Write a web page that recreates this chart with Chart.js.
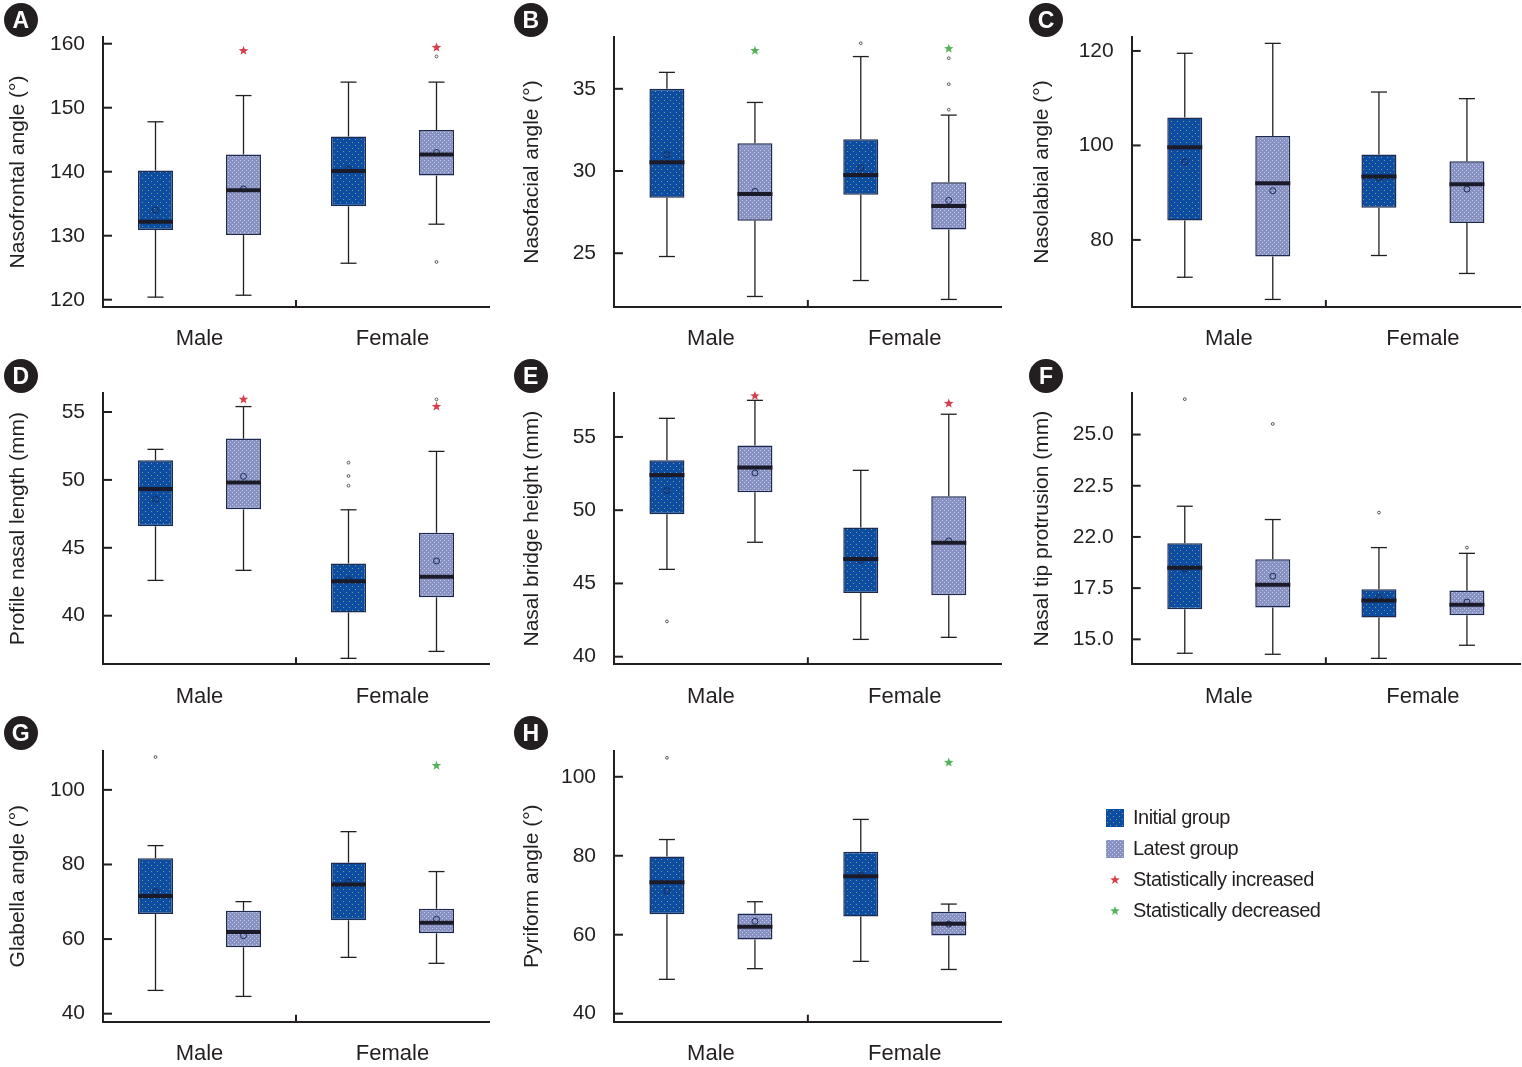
<!DOCTYPE html>
<html>
<head>
<meta charset="utf-8">
<script src="https://cdn.jsdelivr.net/npm/chart.js@4.4.1/dist/chart.umd.min.js"></script>
<style>
  html, body { margin: 0; padding: 0; background: #fff; }
  body { width: 1522px; height: 1067px; position: relative; overflow: hidden;
         font-family: "Liberation Sans", Arial, sans-serif; color: #231f20; }
  canvas.panel { position: absolute; }
  .badge { position: absolute; width: 34px; height: 34px; margin: -17px 0 0 -17px; border-radius: 50%;
           background: #231f20; color: #fff; font: bold 23px "Liberation Sans", Arial, sans-serif;
           text-align: center; line-height: 35px; }
  .legend { position: absolute; left: 1106px; top: 802px; font-size: 20px; letter-spacing: -0.5px; }
  .legend div { height: 31px; display: flex; align-items: center; }
  .legend canvas { margin-right: 9px; }
</style>
</head>
<body>
<div class="legend" id="legend"></div>
<script>
// categories and series
const groups = ['Male', 'Female'];
const seriesNames = ['Initial group', 'Latest group'];
const markNames = ['Statistically increased', 'Statistically decreased'];

// each row: [min, q1, median, q3, max, mean] for Male, Female
// A - nasofrontal angle
const nasofrontalInitial = [[120.4, 130.9, 132.2, 140.2, 147.8, 134.0], [125.7, 134.6, 140.1, 145.5, 154.0, 140.4]];
const nasofrontalLatest = [[120.7, 130.1, 137.1, 142.7, 151.9, 137.3], [131.8, 139.4, 142.7, 146.5, 154.0, 143.0]];
const nasofrontalOutInitial = [[], []];
const nasofrontalOutLatest = [[], [158.0, 125.9]];
const nasofrontalStars = [158.9, 159.4];
const nasofrontalStarKinds = ['inc', 'inc'];
const nasofrontalTicks = [120, 130, 140, 150, 160];

// B - nasofacial angle
const nasofacialInitial = [[24.8, 28.37, 30.54, 35.0, 36.0, 31.0], [23.34, 28.56, 29.75, 31.93, 36.96, 30.19]];
const nasofacialLatest = [[22.37, 26.98, 28.6, 31.69, 34.17, 28.76], [22.19, 26.45, 27.87, 29.32, 33.4, 28.21]];
const nasofacialOutInitial = [[], [37.77]];
const nasofacialOutLatest = [[], [36.86, 35.28, 33.73]];
const nasofacialStars = [37.32, 37.44];
const nasofacialStarKinds = ['dec', 'dec'];
const nasofacialTicks = [25, 30, 35];

// C - nasolabial angle
const nasolabialInitial = [[72.1, 84.1, 99.6, 105.9, 119.5, 96.5], [76.7, 86.8, 93.4, 98.1, 111.3, 93.1]];
const nasolabialLatest = [[67.4, 76.5, 92.0, 102.0, 121.6, 90.4], [72.9, 83.6, 91.8, 96.65, 109.9, 90.75]];
const nasolabialOutInitial = [[], []];
const nasolabialOutLatest = [[], []];
const nasolabialStars = [null, null];
const nasolabialStarKinds = [null, null];
const nasolabialTicks = [80, 100, 120];

// D - profile nasal length
const profileInitial = [[42.6, 46.58, 49.33, 51.44, 52.25, 48.57], [36.86, 40.24, 42.53, 43.85, 47.8, 42.63]];
const profileLatest = [[43.34, 47.83, 49.8, 53.04, 55.4, 50.26], [37.37, 41.35, 42.87, 46.11, 52.1, 44.03]];
const profileOutInitial = [[], [51.27, 50.29, 49.57]];
const profileOutLatest = [[], [55.93]];
const profileStars = [55.93, 55.4];
const profileStarKinds = ['inc', 'inc'];
const profileTicks = [40, 45, 50, 55];

// E - nasal bridge height
const bridgeInitial = [[45.96, 49.72, 52.4, 53.41, 56.27, 51.34], [41.18, 44.34, 46.67, 48.81, 52.72, 46.58]];
const bridgeLatest = [[47.81, 51.22, 52.91, 54.41, 57.5, 52.54], [41.32, 44.19, 47.78, 50.95, 56.55, 47.9]];
const bridgeOutInitial = [[42.41], []];
const bridgeOutLatest = [[], []];
const bridgeStars = [57.8, 57.28];
const bridgeStarKinds = ['inc', 'inc'];
const bridgeTicks = [40, 45, 50, 55];

// F - nasal tip protrusion (tick label "22.0" printed as in the source figure)
const tipInitial = [[14.32, 16.47, 18.5, 19.69, 21.5, 18.44], [14.07, 16.07, 16.89, 17.44, 19.48, 17.04]];
const tipLatest = [[14.27, 16.56, 17.67, 18.91, 20.85, 18.08], [14.71, 16.17, 16.69, 17.39, 19.2, 16.82]];
const tipOutInitial = [[26.73], [21.19]];
const tipOutLatest = [[25.52], [19.48]];
const tipStars = [null, null];
const tipStarKinds = [null, null];
const tipTicks = [15, 17.5, 20, 22.5, 25];
const tipTickLabels = ['15.0', '17.5', '22.0', '22.5', '25.0'];

// G - glabella angle
const glabellaInitial = [[46.24, 66.7, 71.56, 81.66, 85.06, 72.7], [55.1, 65.03, 74.6, 80.5, 88.8, 75.2]];
const glabellaLatest = [[44.63, 57.8, 61.9, 67.6, 70.04, 60.9], [53.5, 61.54, 64.4, 68.16, 78.1, 65.3]];
const glabellaOutInitial = [[108.8], []];
const glabellaOutLatest = [[], []];
const glabellaStars = [null, 106.5];
const glabellaStarKinds = [null, 'dec'];
const glabellaTicks = [40, 60, 80, 100];

// H - pyriform angle
const pyriformInitial = [[48.7, 65.15, 73.3, 79.8, 84.1, 71.1], [53.25, 64.6, 74.8, 81.0, 89.2, 75.1]];
const pyriformLatest = [[51.4, 58.8, 62.0, 65.4, 68.35, 63.4], [51.2, 59.83, 62.8, 65.8, 67.76, 62.7]];
const pyriformOutInitial = [[104.8], []];
const pyriformOutLatest = [[], []];
const pyriformStars = [null, 103.6];
const pyriformStarKinds = [null, 'dec'];
const pyriformTicks = [40, 60, 80, 100];

const ink = '#231f20';
const starColors = { inc: '#d6404c', dec: '#55b35a' };

// page grid
const cols = [
  { x0: 0, w: 500, plotLeft: 103, plotRight: 489, titleX: 18 },
  { x0: 510, w: 500, plotLeft: 614, plotRight: 1001.7, titleX: 532 },
  { x0: 1020, w: 502, plotLeft: 1131.7, plotRight: 1520, titleX: 1042 }
];
const rows = [
  { y0: 0, h: 360, plotTop: 37, plotBottom: 307, badgeY: 20 },
  { y0: 360, h: 360, plotTop: 393, plotBottom: 664.3, badgeY: 376 },
  { y0: 720, h: 347, plotTop: 750.7, plotBottom: 1021.7, badgeY: 733 }
];

const panels = [
  { letter: 'A', title: 'Nasofrontal angle (°)', col: 0, row: 0, min: 118.86, max: 161.05,
    initial: nasofrontalInitial, latest: nasofrontalLatest, outI: nasofrontalOutInitial, outL: nasofrontalOutLatest,
    stars: nasofrontalStars, kinds: nasofrontalStarKinds, ticks: nasofrontalTicks },
  { letter: 'B', title: 'Nasofacial angle (°)', col: 1, row: 0, min: 21.73, max: 38.15,
    initial: nasofacialInitial, latest: nasofacialLatest, outI: nasofacialOutInitial, outL: nasofacialOutLatest,
    stars: nasofacialStars, kinds: nasofacialStarKinds, ticks: nasofacialTicks },
  { letter: 'C', title: 'Nasolabial angle (°)', col: 2, row: 0, min: 65.8, max: 122.95,
    initial: nasolabialInitial, latest: nasolabialLatest, outI: nasolabialOutInitial, outL: nasolabialOutLatest,
    stars: nasolabialStars, kinds: nasolabialStarKinds, ticks: nasolabialTicks },
  { letter: 'D', title: 'Profile nasal length (mm)', col: 0, row: 1, min: 36.42, max: 56.4,
    initial: profileInitial, latest: profileLatest, outI: profileOutInitial, outL: profileOutLatest,
    stars: profileStars, kinds: profileStarKinds, ticks: profileTicks },
  { letter: 'E', title: 'Nasal bridge height (mm)', col: 1, row: 1, min: 39.48, max: 58.0,
    initial: bridgeInitial, latest: bridgeLatest, outI: bridgeOutInitial, outL: bridgeOutLatest,
    stars: bridgeStars, kinds: bridgeStarKinds, ticks: bridgeTicks },
  { letter: 'F', title: 'Nasal tip protrusion (mm)', col: 2, row: 1, min: 13.78, max: 27.03,
    initial: tipInitial, latest: tipLatest, outI: tipOutInitial, outL: tipOutLatest,
    stars: tipStars, kinds: tipStarKinds, ticks: tipTicks, tickLabels: tipTickLabels },
  { letter: 'G', title: 'Glabella angle (°)', col: 0, row: 2, min: 37.85, max: 110.5,
    initial: glabellaInitial, latest: glabellaLatest, outI: glabellaOutInitial, outL: glabellaOutLatest,
    stars: glabellaStars, kinds: glabellaStarKinds, ticks: glabellaTicks },
  { letter: 'H', title: 'Pyriform angle (°)', col: 1, row: 2, min: 37.97, max: 106.6,
    initial: pyriformInitial, latest: pyriformLatest, outI: pyriformOutInitial, outL: pyriformOutLatest,
    stars: pyriformStars, kinds: pyriformStarKinds, ticks: pyriformTicks }
];

// dotted fills like the printed boxes
function makePattern(base, dot, size, dots) {
  const c = document.createElement('canvas');
  c.width = c.height = size;
  const g = c.getContext('2d');
  g.fillStyle = base;
  g.fillRect(0, 0, size, size);
  g.fillStyle = dot;
  dots.forEach(([a, b]) => g.fillRect(a, b, 1, 1));
  return g.createPattern(c, 'repeat');
}
const initialFill = makePattern('#0c4ca1', '#7d9c8c', 6, [[1, 1], [4, 4]]);
const latestFill = makePattern('#8792c2', '#c4cae6', 4, [[0, 0], [2, 2]]);

function drawStar(ctx, x, y, color) {
  ctx.save();
  ctx.fillStyle = color;
  ctx.beginPath();
  for (let k = 0; k < 10; k++) {
    const r = k % 2 === 0 ? 5 : 2.1;
    const a = -Math.PI / 2 + k * Math.PI / 5;
    ctx.lineTo(x + r * Math.cos(a), y + r * Math.sin(a));
  }
  ctx.closePath();
  ctx.fill();
  ctx.restore();
}

function seg(ctx, x1, y1, x2, y2) {
  ctx.beginPath();
  ctx.moveTo(x1, y1);
  ctx.lineTo(x2, y2);
  ctx.stroke();
}

// whiskers, medians, means, outliers and marks on top of the floating bars
const boxExtras = {
  id: 'boxExtras',
  afterDatasetsDraw(chart) {
    const ctx = chart.ctx;
    const y = chart.scales.y;
    chart.data.datasets.forEach((ds, di) => {
      const meta = chart.getDatasetMeta(di);
      meta.data.forEach((bar, j) => {
        const s = ds.stats[j];
        const x = bar.x;
        const half = bar.width / 2;
        ctx.save();
        ctx.strokeStyle = ink;
        ctx.lineWidth = 1.3;
        seg(ctx, x, y.getPixelForValue(s[3]), x, y.getPixelForValue(s[4]));
        seg(ctx, x, y.getPixelForValue(s[1]), x, y.getPixelForValue(s[0]));
        seg(ctx, x - 8, y.getPixelForValue(s[4]), x + 8, y.getPixelForValue(s[4]));
        seg(ctx, x - 8, y.getPixelForValue(s[0]), x + 8, y.getPixelForValue(s[0]));
        // mean
        ctx.strokeStyle = '#1d2a55';
        ctx.lineWidth = 1;
        ctx.beginPath();
        ctx.arc(x, y.getPixelForValue(s[5]), 3, 0, Math.PI * 2);
        ctx.stroke();
        // median
        ctx.strokeStyle = '#1a1a28';
        ctx.lineWidth = 4;
        const ym = y.getPixelForValue(s[2]);
        seg(ctx, x - half, ym, x + half, ym);
        // outliers
        ctx.strokeStyle = '#555';
        ctx.lineWidth = 1;
        ds.outliers[j].forEach(v => {
          ctx.beginPath();
          ctx.arc(x, y.getPixelForValue(v), 1.4, 0, Math.PI * 2);
          ctx.stroke();
        });
        ctx.restore();
        if (ds.stars && ds.stars[j] != null) {
          drawStar(ctx, x, y.getPixelForValue(ds.stars[j]), starColors[ds.kinds[j]]);
        }
      });
    });
  }
};

// inward tick marks and the group separator tick
const inwardTicks = {
  id: 'inwardTicks',
  afterDraw(chart) {
    const ctx = chart.ctx;
    const { left, bottom } = chart.chartArea;
    const y = chart.scales.y;
    const x = chart.scales.x;
    ctx.save();
    ctx.strokeStyle = ink;
    ctx.lineWidth = 2;
    y.ticks.forEach(t => {
      const py = y.getPixelForValue(t.value);
      seg(ctx, left, py, left + 9, py);
    });
    const mid = (x.getPixelForValue(0) + x.getPixelForValue(1)) / 2;
    seg(ctx, mid, bottom, mid, bottom - 7);
    ctx.restore();
  }
};

panels.forEach(p => {
  const c = cols[p.col];
  const r = rows[p.row];
  const canvas = document.createElement('canvas');
  canvas.className = 'panel';
  canvas.width = c.w;
  canvas.height = r.h;
  canvas.style.left = c.x0 + 'px';
  canvas.style.top = r.y0 + 'px';
  document.body.appendChild(canvas);

  const badge = document.createElement('div');
  badge.className = 'badge';
  badge.textContent = p.letter;
  badge.style.left = (c.x0 + 20.7 + (p.col === 2 ? 5.3 : 0)) + 'px';
  badge.style.top = r.badgeY + 'px';
  document.body.appendChild(badge);

  // bar width ~35px, centers ~44px either side of the group centre
  const catWidth = (c.plotRight - c.plotLeft) / groups.length;
  const catPct = 176 / catWidth;
  const barPct = 35 / (catPct * catWidth / 2);

  new Chart(canvas.getContext('2d'), {
    type: 'bar',
    data: {
      labels: groups,
      datasets: [
        { label: seriesNames[0], data: p.initial.map(s => [s[1], s[3]]), stats: p.initial,
          outliers: p.outI, backgroundColor: initialFill },
        { label: seriesNames[1], data: p.latest.map(s => [s[1], s[3]]), stats: p.latest,
          outliers: p.outL, stars: p.stars, kinds: p.kinds, backgroundColor: latestFill }
      ].map(d => Object.assign(d, {
        borderColor: '#1d2a4f', borderWidth: 1.5, borderSkipped: false,
        barPercentage: barPct, categoryPercentage: catPct
      }))
    },
    options: {
      responsive: false,
      devicePixelRatio: 1,
      animation: false,
      events: [],
      layout: { padding: { left: 0, top: r.plotTop - r.y0, right: c.x0 + c.w - c.plotRight, bottom: 0 } },
      plugins: { legend: { display: false }, tooltip: { enabled: false } },
      scales: {
        x: {
          type: 'category',
          grid: { display: false, drawTicks: false },
          border: { display: true, color: ink, width: 2 },
          ticks: { color: ink, padding: 19, maxRotation: 0, autoSkip: false,
                   font: { family: '"Liberation Sans", Arial, sans-serif', size: 22 } },
          afterFit: s => { s.height = r.y0 + r.h - r.plotBottom; }
        },
        y: {
          min: p.min,
          max: p.max,
          grid: { display: false, drawTicks: false },
          border: { display: true, color: ink, width: 2 },
          ticks: {
            color: ink, padding: 18,
            font: { family: '"Liberation Sans", Arial, sans-serif', size: 21 },
            callback: (v, i) => p.tickLabels ? p.tickLabels[i] : String(v)
          },
          title: {
            display: true, text: p.title, color: ink,
            font: { family: '"Liberation Sans", Arial, sans-serif', size: 21 },
            padding: { top: c.titleX - c.x0 - 12.6, bottom: 0 }
          },
          afterBuildTicks: s => { s.ticks = p.ticks.map(v => ({ value: v })); },
          afterFit: s => { s.width = c.plotLeft - c.x0; }
        }
      }
    },
    plugins: [boxExtras, inwardTicks]
  });
});

// legend
const legend = document.getElementById('legend');
function legendRow(drawFn, text) {
  const row = document.createElement('div');
  const sw = document.createElement('canvas');
  sw.width = 18;
  sw.height = 18;
  drawFn(sw.getContext('2d'));
  row.appendChild(sw);
  const span = document.createElement('span');
  span.textContent = text;
  row.appendChild(span);
  legend.appendChild(row);
}
legendRow(g => { g.fillStyle = initialFill; g.fillRect(0, 0, 18, 18); }, seriesNames[0]);
legendRow(g => { g.fillStyle = latestFill; g.fillRect(0, 0, 18, 18); }, seriesNames[1]);
legendRow(g => drawStar(g, 9, 9, starColors.inc), markNames[0]);
legendRow(g => drawStar(g, 9, 9, starColors.dec), markNames[1]);
</script>
</body>
</html>
